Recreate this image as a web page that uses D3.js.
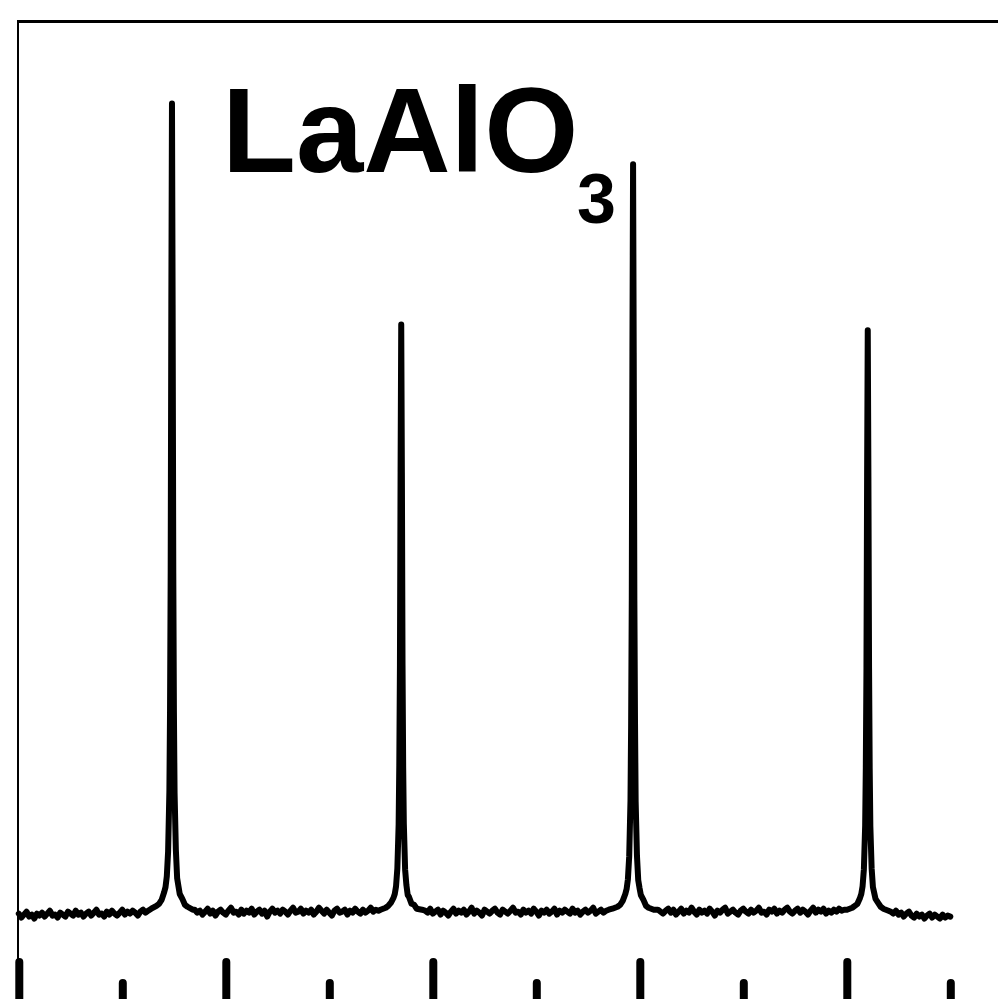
<!DOCTYPE html>
<html>
<head>
<meta charset="utf-8">
<script src="https://cdn.jsdelivr.net/npm/d3@7"></script>
<style>
  html, body { margin: 0; padding: 0; background: #fff; }
  svg { display: block; }
</style>
</head>
<body>
<svg id="chart" width="998" height="999"></svg>
<script>
// ---- DATA (phi angle in degrees, intensity in arbitrary counts) ----
const majorTicks = [0, 80, 160, 240, 320];
const minorTicks = [40, 120, 200, 280, 360];

// baseline samples (every 1 deg) outside the peak regions
const baseAngles1 = d3.range(0, 51, 1);      // 0..50
const baseCounts1 = [91, 87, 90, 93, 88, 90, 86, 91, 89, 92, 88, 91, 94, 89, 90, 87, 92, 90, 88, 93, 91, 89, 94, 90, 92, 88, 91, 93, 89, 92, 95, 90, 91, 88, 93, 90, 94, 91, 89, 92, 95, 90, 93, 91, 94, 92, 89, 93, 95, 92, 94];
const baseAngles2 = d3.range(68, 140, 1);    // 68..139
const baseCounts2 = [95, 92, 94, 90, 93, 96, 91, 94, 89, 93, 95, 92, 90, 94, 97, 92, 93, 90, 95, 91, 94, 92, 96, 90, 93, 95, 91, 94, 88, 93, 96, 92, 94, 91, 95, 93, 90, 94, 97, 92, 93, 96, 91, 94, 92, 95, 90, 93, 97, 94, 91, 95, 92, 89, 94, 96, 92, 93, 95, 90, 94, 92, 96, 93, 91, 95, 92, 94, 97, 93, 95, 94];
const baseAngles3 = d3.range(157, 229, 1);   // 157..228
const baseCounts3 = [94, 92, 96, 91, 93, 95, 90, 94, 92, 89, 93, 96, 91, 94, 92, 95, 90, 93, 97, 91, 94, 92, 89, 95, 93, 91, 94, 96, 92, 90, 95, 93, 91, 94, 97, 92, 93, 90, 95, 92, 94, 91, 96, 93, 89, 94, 92, 95, 91, 93, 96, 90, 94, 92, 95, 93, 91, 96, 92, 94, 90, 93, 95, 92, 94, 97, 91, 93, 95, 92, 94, 95];
const baseAngles4 = d3.range(247, 320, 1);   // 247..319
const baseCounts4 = [95, 93, 91, 94, 96, 92, 95, 90, 93, 96, 91, 94, 92, 97, 93, 90, 95, 92, 94, 91, 96, 93, 89, 94, 92, 95, 97, 91, 93, 95, 92, 90, 94, 96, 93, 91, 95, 92, 94, 97, 92, 93, 90, 95, 93, 96, 91, 94, 92, 95, 97, 93, 91, 94, 96, 92, 95, 93, 90, 94, 97, 92, 95, 93, 96, 91, 94, 92, 95, 93, 96, 94, 95];
const baseAngles5 = d3.range(337, 361, 1);   // 337..360
const baseCounts5 = [93, 91, 94, 90, 92, 88, 91, 93, 89, 87, 91, 88, 90, 86, 89, 91, 87, 90, 88, 86, 90, 87, 89, 88];

// peak profiles
const peak1Angles = [51.2, 53.2, 54.2, 55.2, 56.2, 56.7, 57.2, 57.7, 58.2, 58.45, 58.7, 58.95, 59.2, 59.45, 59.7, 59.95, 60.2, 60.7, 61.2, 61.7, 62.2, 63.2, 64.2, 65.2, 67.2];
const peak1Counts = [96, 99, 101, 105, 113, 118, 129, 154, 216, 298, 438, 710, 916, 711, 440, 296, 214, 156, 127, 119, 111, 106, 100, 98, 95];
const peak2Angles = [139.8, 141.8, 142.8, 143.8, 144.8, 145.3, 145.8, 146.3, 146.8, 147.05, 147.3, 147.55, 147.8, 148.05, 148.3, 148.55, 148.8, 149.3, 149.8, 150.3, 150.8, 151.8, 152.8, 153.8, 155.8];
const peak2Counts = [95, 97, 99, 102, 107, 111, 119, 137, 182, 242, 344, 541, 691, 540, 345, 240, 183, 136, 120, 110, 108, 101, 100, 96, 95];
const peak3Angles = [229.4, 231.4, 232.4, 233.4, 234.4, 234.9, 235.4, 235.9, 236.4, 236.65, 236.9, 237.15, 237.4, 237.65, 237.9, 238.15, 238.4, 238.9, 239.4, 239.9, 240.4, 241.4, 242.4, 243.4, 245.4];
const peak3Counts = [96, 98, 100, 104, 111, 116, 126, 149, 206, 283, 412, 664, 854, 662, 410, 285, 205, 150, 125, 117, 110, 105, 99, 97, 95];
const peak4Angles = [320.1, 322.1, 323.1, 324.1, 325.1, 325.6, 326.1, 326.6, 327.1, 327.35, 327.6, 327.85, 328.1, 328.35, 328.6, 328.85, 329.1, 329.6, 330.1, 330.6, 331.1, 332.1, 333.1, 334.1, 336.1];
const peak4Counts = [95, 97, 99, 101, 107, 111, 119, 136, 181, 240, 341, 537, 685, 536, 342, 239, 180, 137, 118, 112, 106, 102, 98, 96, 94];

const titleMain = "LaAlO";
const titleSub = "3";

// ---- BUILD SERIES ----
const pairs = (a, c) => a.map((x, i) => ({ x: x, y: c[i] }));
const series = [].concat(
  pairs(baseAngles1, baseCounts1), pairs(peak1Angles, peak1Counts),
  pairs(baseAngles2, baseCounts2), pairs(peak2Angles, peak2Counts),
  pairs(baseAngles3, baseCounts3), pairs(peak3Angles, peak3Counts),
  pairs(baseAngles4, baseCounts4), pairs(peak4Angles, peak4Counts),
  pairs(baseAngles5, baseCounts5)
).sort((a, b) => a.x - b.x);

// ---- SCALES ----
const svg = d3.select("#chart");
const x = d3.scaleLinear().domain([0, 360]).range([18.8, 950.3]);
const y = d3.scaleLinear().domain([0, 1000]).range([1003, 21]);
const axisY = 1010;

// frame (top + left visible; right/bottom lie outside the canvas)
svg.append("line").attr("x1", 17).attr("x2", 1010).attr("y1", 21.5).attr("y2", 21.5)
  .attr("stroke", "#000").attr("stroke-width", 3);
svg.append("line").attr("x1", 18).attr("x2", 18).attr("y1", 20).attr("y2", axisY)
  .attr("stroke", "#000").attr("stroke-width", 2);

// ticks (inward, from bottom axis beyond the canvas)
const gMaj = svg.append("g").attr("transform", `translate(0,${axisY})`)
  .call(d3.axisBottom(x).tickValues(majorTicks).tickSize(-48).tickFormat(""));
const gMin = svg.append("g").attr("transform", `translate(0,${axisY})`)
  .call(d3.axisBottom(x).tickValues(minorTicks).tickSize(-27).tickFormat(""));
[gMaj, gMin].forEach(g => {
  g.select(".domain").remove();
  g.selectAll(".tick line").attr("stroke", "#000").attr("stroke-width", 8)
    .attr("stroke-linecap", "round");
});

// data line
const line = d3.line().x(d => x(d.x)).y(d => y(d.y));
svg.append("path").datum(series)
  .attr("d", line)
  .attr("fill", "none")
  .attr("stroke", "#000")
  .attr("stroke-width", 6)
  .attr("stroke-linejoin", "round")
  .attr("stroke-linecap", "round");

// title
svg.append("text")
  .attr("x", 222).attr("y", 172)
  .attr("font-family", "'Liberation Sans', Arial, sans-serif")
  .attr("font-weight", "bold")
  .attr("font-size", 121)
  .attr("fill", "#000")
  .text(titleMain);
svg.append("text")
  .attr("x", 577).attr("y", 223)
  .attr("font-family", "'Liberation Sans', Arial, sans-serif")
  .attr("font-weight", "bold")
  .attr("font-size", 70)
  .attr("fill", "#000")
  .text(titleSub);
</script>
</body>
</html>
